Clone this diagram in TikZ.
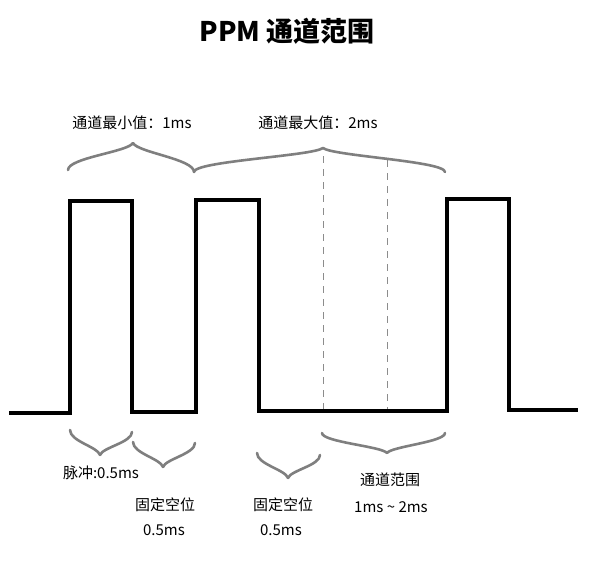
\documentclass[tikz,border=0pt]{standalone}
\usepackage{fontspec}
\newfontfamily\cjk{Noto Sans CJK SC}
\definecolor{bracegray}{HTML}{7F7F7F}
\definecolor{guidegray}{HTML}{8C8C8C}
\tikzset{
  wave/.style={line width=4pt, line join=miter, black},
  bracestyle/.style={draw=bracegray, line width=2.6pt, line cap=round, line join=round},
  guide/.style={draw=guidegray, line width=1pt, dash pattern=on 7pt off 6pt},
  lbl/.style={font=\cjk\fontsize{15pt}{18pt}\selectfont, text=black, inner sep=0pt},
  ttl/.style={font=\cjk\bfseries\fontsize{27pt}{31pt}\selectfont, text=black, inner sep=0pt}
}
% half of a curly brace from an end (#1,#2) to its tip (#3,#4)
\newcommand\mybracehalf[4]{%
  \pgfmathsetmacro\mbw{(#3)-(#1)}%
  \pgfmathsetmacro\mbd{(#4)-(#2)}%
  \pgfmathsetmacro\mbay{#2+0.45*(\mbd)}%
  \pgfmathsetmacro\mbbx{#3-0.08*(\mbw)}%
  \pgfmathsetmacro\mbby{#4-0.33*(\mbd)}%
  \draw[bracestyle] (#1,#2) .. controls (#1,\mbay) and (\mbbx,\mbby) .. (#3,#4);}
\newcommand\mybrace[6]{\mybracehalf{#1}{#2}{#3}{#4}\mybracehalf{#5}{#6}{#3}{#4}}
\begin{document}
\begin{tikzpicture}[x=1pt,y=-1pt]
\useasboundingbox (0,0) rectangle (590,573);

% title
\node[ttl] (title) at (287,31) {PPM 通道范围};

% top labels
\node[lbl] (minlbl) at (132,123) {通道最小值：1ms};
\node[lbl] (maxlbl) at (318,123) {通道最大值：2ms};

% guide lines
\draw[guide] (323,156) -- (323,411);
\draw[guide] (387,160) -- (387,411);

% waveform
\draw[wave] (9,413) -- (70,413) -- (70,201) -- (132,201) -- (132,412)
  -- (196,412) -- (196,200) -- (259,200) -- (259,410.5) -- (447,410.5)
  -- (447,199) -- (509,199) -- (509,410) -- (578,410);

% top braces
\mybrace{68}{170}{133}{143}{194}{172}
\mybrace{194}{172}{323}{148}{445}{172}

% bottom braces
\mybrace{70}{430}{100}{455}{132}{432}
\mybrace{133}{442}{163}{467}{195}{443}
\mybrace{257}{453}{288}{478}{320}{455}
\mybrace{322}{433}{387}{453}{445}{433}

% bottom labels
\node[lbl] (pulse) at (101,473) {脉冲:0.5ms};
\node[lbl] (gapa) at (165,505) {固定空位};
\node[lbl] (gapav) at (164,530) {0.5ms};
\node[lbl] (gapb) at (283,505) {固定空位};
\node[lbl] (gapbv) at (281,530) {0.5ms};
\node[lbl] (range) at (390,480) {通道范围};
\node[lbl] (rangev) at (391,507) {1ms \textasciitilde{} 2ms};
\end{tikzpicture}
\end{document}
